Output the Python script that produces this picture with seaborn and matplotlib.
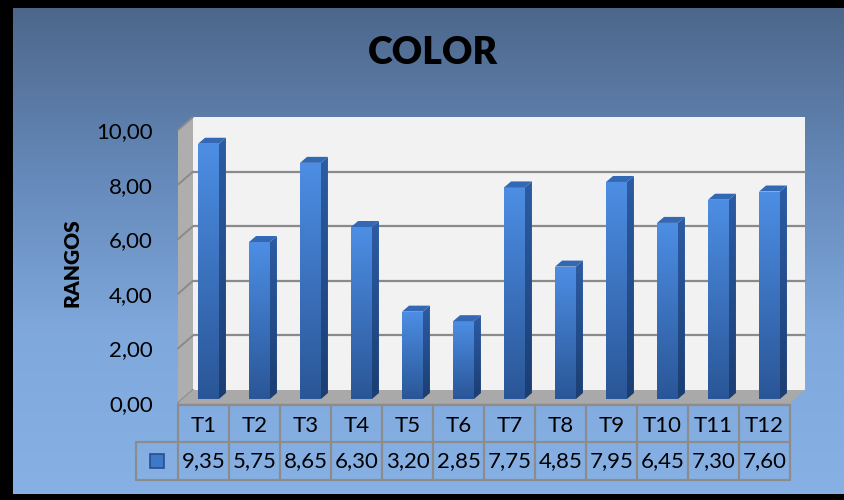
import numpy as np
import pandas as pd
import matplotlib
matplotlib.use("Agg")
import matplotlib.pyplot as plt
import seaborn as sns
from matplotlib import transforms
from matplotlib.transforms import offset_copy
from matplotlib.patches import Polygon, Rectangle
from matplotlib.colors import LinearSegmentedColormap

# ---- data -------------------------------------------------------------
tratamientos = ["T1", "T2", "T3", "T4", "T5", "T6",
                "T7", "T8", "T9", "T10", "T11", "T12"]
rangos = [9.35, 5.75, 8.65, 6.30, 3.20, 2.85,
          7.75, 4.85, 7.95, 6.45, 7.30, 7.60]
y_ticks = [0, 2, 4, 6, 8, 10]
titulo = "COLOR"
eje_y = "RANGOS"


def coma(v):
    return f"{v:.2f}".replace(".", ",")


sns.set_theme(style="white")
plt.rcParams["font.family"] = ["Lato", "DejaVu Sans"]

W, H = 845, 500
fig = plt.figure(figsize=(W / 100, H / 100), dpi=100, facecolor="black")


def fx(px):
    return px / W


def fy(py):
    return 1 - py / H


# ---- gradient background inside the black frame ------------------------
bg = fig.add_axes([fx(13), fy(494), 1 - fx(13), (494 - 8) / H], zorder=-10)
bg.set_axis_off()
fondo = LinearSegmentedColormap.from_list(
    "fondo", ["#4D678B", "#6488B8", "#7FA8DC", "#87B1E4"])
bg.imshow(np.linspace(0, 1, 256)[:, None], cmap=fondo, aspect="auto",
          extent=[0, 1, 0, 1], origin="upper")

# ---- main plot area (front plane of the 3-D box) ------------------------
ax = fig.add_axes([fx(178), fy(403), (790 - 178) / W, 273 / H])
ax.patch.set_alpha(0)

df = pd.DataFrame({"Tratamiento": tratamientos, "Rango": rangos})
sns.barplot(data=df, x="Tratamiento", y="Rango", ax=ax, width=0.41,
            color="#3F7BCF", saturation=1, errorbar=None)
bars = list(ax.patches)

ax.set_xlim(-0.5, len(tratamientos) - 0.5)
ax.set_ylim(y_ticks[0], y_ticks[-1])
for s in ax.spines.values():
    s.set_visible(False)

sx = ax.bbox.width / (len(tratamientos))          # pixels per category
sy = ax.bbox.height / (y_ticks[-1] - y_ticks[0])  # pixels per unit

# depth offsets (pixels)
WALL_DX, WALL_DY = 15, 13
BAR_DX, BAR_DY = 5, 4
DEPTH_DX, DEPTH_DY = 7, 6

x_lo, x_hi = -0.5, len(tratamientos) - 0.5
y_top = y_ticks[-1]
wdx, wdy = WALL_DX / sx, WALL_DY / sy

# back wall
wall_tr = offset_copy(ax.transData, fig=fig, x=WALL_DX, y=WALL_DY, units="dots")
ax.add_patch(Rectangle((x_lo, 0), x_hi - x_lo, y_top, transform=wall_tr,
                       facecolor="#F2F2F2", edgecolor="none", zorder=0.2,
                       clip_on=False))
for t in y_ticks[1:-1]:
    ax.plot([x_lo, x_hi], [t, t], transform=wall_tr, color="#8A8A8A",
            lw=1.6, zorder=0.3, clip_on=False)

# left side wall and floor
ax.add_patch(Polygon([(x_lo, 0), (x_lo, y_top), (x_lo + wdx, y_top + wdy),
                      (x_lo + wdx, wdy)], closed=True, facecolor="#AEAEAE",
                     edgecolor="none", zorder=0.4, clip_on=False))
for t in y_ticks:
    ax.plot([x_lo, x_lo + wdx], [t, t + wdy], color="#8A8A8A", lw=1.4,
            zorder=0.45, clip_on=False)
ax.add_patch(Polygon([(x_lo, 0), (x_lo + wdx, wdy), (x_hi + wdx, wdy),
                      (x_hi, 0)], closed=True, facecolor="#A9A9A9",
                     edgecolor="none", zorder=0.5, clip_on=False))

# 3-D columns built from the seaborn bars
bar_tr = offset_copy(ax.transData, fig=fig, x=BAR_DX, y=BAR_DY, units="dots")
ddx, ddy = DEPTH_DX / sx, DEPTH_DY / sy
front_cmap = LinearSegmentedColormap.from_list("frente", ["#2A5697", "#4D8EE4"])
side_cmap = LinearSegmentedColormap.from_list("lado", ["#1B3E72", "#2C5CA4"])
for p in bars:
    x0, w, h = p.get_x(), p.get_width(), p.get_height()
    p.set_transform(bar_tr)
    p.set_facecolor("none")
    p.set_edgecolor("none")
    p.set_clip_on(False)
    im = ax.imshow(np.linspace(0, 1, 128)[:, None], cmap=front_cmap,
                   aspect="auto", origin="lower", extent=[x0, x0 + w, 0, h],
                   transform=bar_tr, zorder=3)
    im.set_clip_path(p)
    side = Polygon([(x0 + w, 0), (x0 + w, h), (x0 + w + ddx, h + ddy),
                    (x0 + w + ddx, ddy)], closed=True, transform=bar_tr,
                   facecolor="none", edgecolor="none", clip_on=False)
    ax.add_patch(side)
    ims = ax.imshow(np.linspace(0, 1, 128)[:, None], cmap=side_cmap,
                    aspect="auto", origin="lower",
                    extent=[x0 + w, x0 + w + ddx, 0, h + ddy],
                    transform=bar_tr, zorder=3)
    ims.set_clip_path(side)
    ax.add_patch(Polygon([(x0, h), (x0 + w, h), (x0 + w + ddx, h + ddy),
                          (x0 + ddx, h + ddy)], closed=True, transform=bar_tr,
                         facecolor="#3268B4", edgecolor="none", zorder=3.1,
                         clip_on=False))

ax.set_xlim(x_lo, x_hi)
ax.set_ylim(y_ticks[0], y_ticks[-1])

# axis labels and ticks
ax.set_yticks(y_ticks)
ax.set_yticklabels([coma(v) for v in y_ticks], fontsize=16, color="black")
ax.tick_params(axis="y", length=0, pad=18)
ax.set_xticks([])
ax.set_xlabel("")
ax.set_ylabel("")
fig.text(fx(72), fy(263), eje_y, rotation=90, ha="center", va="center",
         fontsize=15, fontweight="heavy", color="black")
fig.text(fx(433), fy(53), titulo, ha="center", va="center",
         fontsize=27, fontweight="heavy", color="black")

# ---- data table under the plot ----------------------------------------
tt = transforms.blended_transform_factory(ax.transData, fig.transFigure)
grid_c = "#8C8C8C"
key_left = x_lo - 42 / sx
row_top, row_mid, row_bot = fy(405), fy(442), fy(480)
ax.plot([x_lo, x_hi], [row_top, row_top], transform=tt, color=grid_c,
        lw=1.6, clip_on=False, zorder=4)
for yy in (row_mid, row_bot):
    ax.plot([key_left, x_hi], [yy, yy], transform=tt, color=grid_c,
            lw=1.6, clip_on=False, zorder=4)
for i in range(len(tratamientos) + 1):
    ax.plot([i - 0.5, i - 0.5], [row_top, row_bot], transform=tt,
            color=grid_c, lw=1.6, clip_on=False, zorder=4)
ax.plot([key_left, key_left], [row_mid, row_bot], transform=tt,
        color=grid_c, lw=1.6, clip_on=False, zorder=4)

for i, (name, val) in enumerate(zip(tratamientos, rangos)):
    ax.text(i, fy(426), name, transform=tt, ha="center", va="center",
            fontsize=16, color="black", clip_on=False)
    ax.text(i, fy(461), coma(val), transform=tt, ha="center", va="center",
            fontsize=16, color="black", clip_on=False)

ax.plot([(key_left + x_lo) / 2], [fy(461)], transform=tt, marker="s",
        markersize=10.5, markerfacecolor="#3E78C8",
        markeredgecolor="#24508F", markeredgewidth=1.2, clip_on=False,
        zorder=4)

fig.savefig("out.png", dpi=100, facecolor=fig.get_facecolor())
